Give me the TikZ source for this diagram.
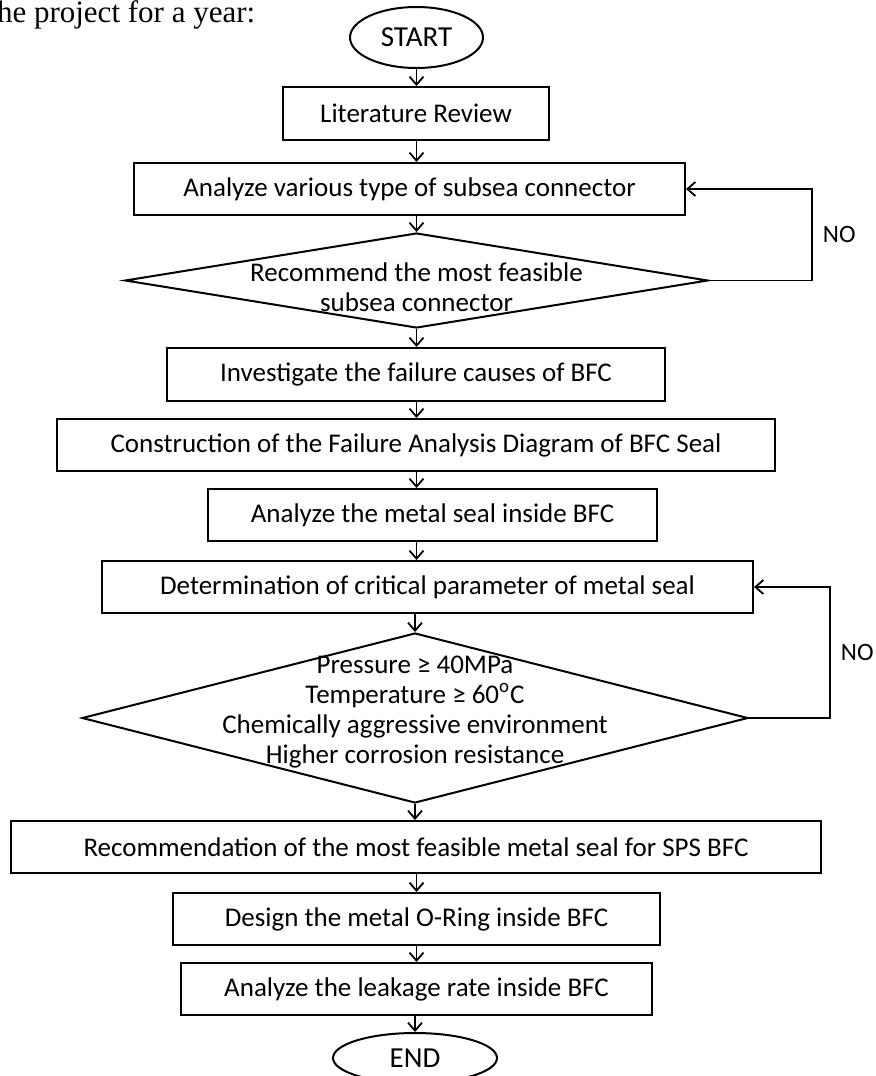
\documentclass[tikz,border=0pt]{standalone}
\usepackage{fontspec}
\setmainfont{Carlito}
\newfontfamily\timesfont{Liberation Serif}
\usetikzlibrary{shapes.geometric,arrows.meta}

\begin{document}
\begin{tikzpicture}[x=0.5pt,y=-0.5pt,
	box/.style={draw, line width=1pt, inner sep=0pt, font=\fontsize{13.5}{15}\selectfont},
	term/.style={draw, ellipse, line width=1pt, inner sep=0pt, font=\fontsize{14.5}{16}\selectfont},
	dia/.style={draw, diamond, line width=1pt, inner sep=0pt},
	diatext/.style={align=center, inner sep=0pt, font=\fontsize{13.5}{15}\selectfont},
	arr/.style={line width=0.9pt, -{Straight Barb[length=4pt,width=7pt]}},
	nolabel/.style={right, inner sep=5pt, font=\fontsize{12.5}{14}\selectfont}]

\useasboundingbox (0,0) rectangle (875,1076);

\node[anchor=base west, inner sep=0pt, font=\timesfont\fontsize{15.5}{18}\selectfont] (intro) at (-12,22) {the project for a year:};

\node[term, minimum width=66.5pt, minimum height=30.5pt] (start) at (416.5,37.5) {START};
\node[box, minimum width=133pt, minimum height=26.5pt] (lit) at (416,113.5) {Literature Review};
\node[box, minimum width=275.5pt, minimum height=26pt] (ana) at (409.5,189) {Analyze various type of subsea connector};
\node[dia, minimum width=291.5pt, minimum height=47.5pt] (rec) at (416.5,280.5) {};
\node[diatext] (rectxt) at (416.5,287) {Recommend the most feasible\\subsea connector};
\node[box, minimum width=249pt, minimum height=26.5pt] (inv) at (416,374.5) {Investigate the failure causes of BFC};
\node[box, minimum width=359pt, minimum height=26pt] (con) at (416,445) {Construction of the Failure Analysis Diagram of BFC Seal};
\node[box, minimum width=224.5pt, minimum height=26pt] (met) at (432.5,515) {Analyze the metal seal inside BFC};
\node[box, minimum width=325.5pt, minimum height=26pt] (det) at (427.5,587) {Determination of critical parameter of metal seal};
\node[dia, minimum width=333pt, minimum height=85pt] (chk) at (415,718) {};
\node[diatext] (chktxt) at (415,712) {Pressure ≥ 40MPa\\Temperature ≥ 60\textsuperscript{o}C\\Chemically aggressive environment\\Higher corrosion resistance};
\node[box, minimum width=405pt, minimum height=26pt] (recm) at (416,847) {Recommendation of the most feasible metal seal for SPS BFC};
\node[box, minimum width=243.5pt, minimum height=26pt] (des) at (416.5,919) {Design the metal O-Ring inside BFC};
\node[box, minimum width=235.5pt, minimum height=26pt] (lea) at (416.5,989) {Analyze the leakage rate inside BFC};
\node[term, minimum width=82pt, minimum height=25pt] (end) at (415,1058) {END};

% main flow
\draw[arr] (start.south) -- (lit.north -| start);
\draw[arr] (lit.south -| start) -- (ana.north -| start);
\draw[arr] (ana.south -| start) -- (rec.north);
\draw[arr] (rec.south) -- (inv.north -| rec);
\draw[arr] (inv.south -| start) -- (con.north -| start);
\draw[arr] (con.south -| start) -- (met.north -| start);
\draw[arr] (met.south -| start) -- (det.north -| start);
\draw[arr] (det.south -| chk) -- (chk.north);
\draw[arr] (chk.south) -- (recm.north -| chk);
\draw[arr] (recm.south -| start) -- (des.north -| start);
\draw[arr] (des.south -| start) -- (lea.north -| start);
\draw[arr] (lea.south -| end) -- (end.north);

% NO loops
\draw[arr] (rec.east) -- ++(103,0) |- node[nolabel, pos=0.25] {NO} (ana.east);
\draw[arr] (chk.east) -- ++(81,0) |- node[nolabel, pos=0.25] {NO} (det.east);

\end{tikzpicture}
\end{document}
